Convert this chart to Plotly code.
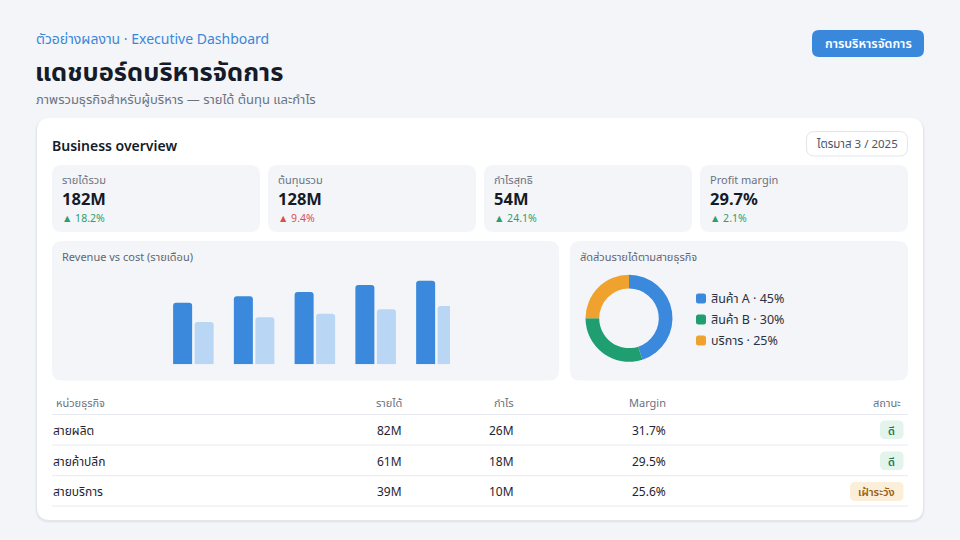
import plotly.graph_objects as go

W, H = 960, 540
FONT = "Noto Sans, Noto Sans Thai, sans-serif"

# ---------------- data ----------------
eyebrow = "ตัวอย่างผลงาน · Executive Dashboard"
title = "แดชบอร์ดบริหารจัดการ"
subtitle = "ภาพรวมธุรกิจสำหรับผู้บริหาร — รายได้ ต้นทุน และกำไร"
button_label = "การบริหารจัดการ"
card_title = "Business overview"
period_label = "ไตรมาส 3 / 2025"

kpi_labels = ["รายได้รวม", "ต้นทุนรวม", "กำไรสุทธิ", "Profit margin"]
kpi_values = ["182M", "128M", "54M", "29.7%"]
kpi_changes = ["▲ 18.2%", "▲ 9.4%", "▲ 24.1%", "▲ 2.1%"]
kpi_good = [True, False, True, True]

bar_title = "Revenue vs cost (รายเดือน)"
months = ["M1", "M2", "M3", "M4", "M5"]
revenue = [30.8, 34.0, 36.2, 39.7, 41.8]
cost = [21.2, 23.5, 25.3, 27.5, 29.2]

pie_title = "สัดส่วนรายได้ตามสายธุรกิจ"
seg_labels = ["สินค้า A", "สินค้า B", "บริการ"]
seg_values = [45, 30, 25]
seg_colors = ["#3a89dc", "#1f9e72", "#f0a22e"]

table_headers = ["หน่วยธุรกิจ", "รายได้", "กำไร", "Margin", "สถานะ"]
units = ["สายผลิต", "สายค้าปลีก", "สายบริการ"]
unit_revenue = ["82M", "61M", "39M"]
unit_profit = ["26M", "18M", "10M"]
unit_margin = ["31.7%", "29.5%", "25.6%"]
unit_status = ["ดี", "ดี", "เฝ้าระวัง"]

# ---------------- helpers ----------------
def px(x):
    return x / W


def py(y):
    return 1 - y / H


def rrect(x0, y0, x1, y1, r):
    pts = [
        ("M", [(x0 + r, y0)]),
        ("L", [(x1 - r, y0)]),
        ("Q", [(x1, y0), (x1, y0 + r)]),
        ("L", [(x1, y1 - r)]),
        ("Q", [(x1, y1), (x1 - r, y1)]),
        ("L", [(x0 + r, y1)]),
        ("Q", [(x0, y1), (x0, y1 - r)]),
        ("L", [(x0, y0 + r)]),
        ("Q", [(x0, y0), (x0 + r, y0)]),
    ]
    s = ""
    for cmd, ps in pts:
        s += cmd + " " + " ".join(f"{px(a):.6f},{py(b):.6f}" for a, b in ps) + " "
    return s + "Z"


shapes = []
annotations = []


def box(x0, y0, x1, y1, r, fill, line=None, lw=0):
    shapes.append(dict(
        type="path", xref="paper", yref="paper", path=rrect(x0, y0, x1, y1, r),
        fillcolor=fill, line=dict(color=line or "rgba(0,0,0,0)", width=lw),
        layer="below"))


def text(x, y, s, size, color, xanchor="left", weight=400):
    annotations.append(dict(
        x=px(x), y=py(y), xref="paper", yref="paper", text=s, showarrow=False,
        xanchor=xanchor, yanchor="middle",
        font=dict(family=FONT, size=size, color=color, weight=weight)))


def hline(x0, x1, y, color):
    shapes.append(dict(type="line", xref="paper", yref="paper",
                       x0=px(x0), x1=px(x1), y0=py(y), y1=py(y),
                       line=dict(color=color, width=1), layer="below"))


# ---------------- header ----------------
text(34, 39, eyebrow, 14, "#3a87d8")
text(33, 71, title, 25.5, "#151b28", weight=700)
text(34, 99, subtitle, 13, "#6b7280")

box(812, 30, 924, 57, 7, "#3a88dc")
text(868, 43.5, button_label, 12.5, "#ffffff", xanchor="center", weight=600)

# ---------------- main card ----------------
box(35, 118, 925, 523, 15, "rgba(30,40,70,0.03)")
box(36, 118, 924, 522, 14, "rgba(30,40,70,0.04)")
box(37, 118, 923, 520, 13, "#ffffff")

text(50, 145, card_title, 14, "#151b28", weight=600)
box(806.5, 131.5, 907.5, 156, 8, "#ffffff", "#e2e6ec", 1)
text(857, 143.5, period_label, 11.5, "#4b5563", xanchor="center")

# KPI cards
card_x = [52, 268, 484, 700]
for i in range(4):
    x0 = card_x[i]
    box(x0, 165, x0 + 208, 232, 10, "#f3f5f9")
    text(x0 + 8, 180, kpi_labels[i], 11, "#6b7280")
    text(x0 + 8, 199, kpi_values[i], 16.5, "#151b28", weight=700)
    text(x0 + 8, 217.5, kpi_changes[i], 10.5, "#2e9e6b" if kpi_good[i] else "#d9504a")

# panels
box(52, 241, 559, 380.5, 10, "#f3f5f9")
text(60, 257, bar_title, 11, "#5f6672")
box(570, 241, 908, 380.5, 10, "#f3f5f9")
text(578, 257, pie_title, 11, "#5f6672")

# donut legend
leg_y = [298.5, 319.5, 340.5]
for i in range(3):
    box(696, leg_y[i] - 5, 706, leg_y[i] + 5, 2.5, seg_colors[i])
    text(709, leg_y[i], f"{seg_labels[i]} · {seg_values[i]}%", 12.5, "#2b3240")

# ---------------- table ----------------
head_y = 402
col_x = [54, 404, 516, 668, 903]
col_anchor = ["left", "right", "right", "right", "right"]
for j, h in enumerate(table_headers):
    text(col_x[j], head_y, h, 11, "#6b7280", xanchor=col_anchor[j])
for y in [414.5, 445, 475.7, 506]:
    hline(52, 908, y, "#e7eaf0")

row_y = [430, 461, 491.7]
for i in range(3):
    text(51, row_y[i], units[i], 12, "#1f2430")
    text(col_x[1], row_y[i], unit_revenue[i], 12, "#1f2430", xanchor="right")
    text(col_x[2], row_y[i], unit_profit[i], 12, "#1f2430", xanchor="right")
    text(col_x[3], row_y[i], unit_margin[i], 12, "#1f2430", xanchor="right")
    if unit_status[i] == "ดี":
        box(880, row_y[i] - 9.5, 903.5, row_y[i] + 9, 5, "#e2f4ec")
        text(891.7, row_y[i], unit_status[i], 11, "#1f7a50", xanchor="center", weight=600)
    else:
        box(850, row_y[i] - 9.7, 903.5, row_y[i] + 9.3, 5, "#fcefd9")
        text(876.7, row_y[i], unit_status[i], 11, "#9a5f14", xanchor="center", weight=600)

# ---------------- figure ----------------
fig = go.Figure()
fig.add_trace(go.Bar(x=months, y=revenue, name="Revenue", marker=dict(color="#3a89dc", line=dict(width=0)),
                     hoverinfo="skip"))
fig.add_trace(go.Bar(x=months, y=cost, name="Cost", marker=dict(color="#b9d6f4", line=dict(width=0)),
                     hoverinfo="skip"))

cx, cy, r = 629.0, 318.3, 43.5
fig.add_trace(go.Pie(
    labels=seg_labels, values=seg_values, hole=0.685, sort=False, direction="clockwise",
    rotation=0, marker=dict(colors=seg_colors, line=dict(width=0)), textinfo="none",
    hoverinfo="skip", showlegend=False,
    domain=dict(x=[px(cx - r), px(cx + r)], y=[py(cy + r), py(cy - r)])))

base_y, top_y = 364.3, 270.0
fig.update_layout(
    width=W, height=H, margin=dict(l=0, r=0, t=0, b=0),
    paper_bgcolor="#f3f5f9", plot_bgcolor="rgba(0,0,0,0)",
    showlegend=False, barmode="group", bargap=0.292, bargroupgap=0.116,
    barcornerradius=3,
    xaxis=dict(domain=[px(163), px(450)], range=[-0.5, 4.224], visible=False, fixedrange=True),
    yaxis=dict(domain=[py(base_y), py(top_y)], range=[0, (base_y - top_y) / 2.0],
               visible=False, fixedrange=True),
    shapes=shapes, annotations=annotations,
    font=dict(family=FONT),
)

fig.write_html("out.html")
